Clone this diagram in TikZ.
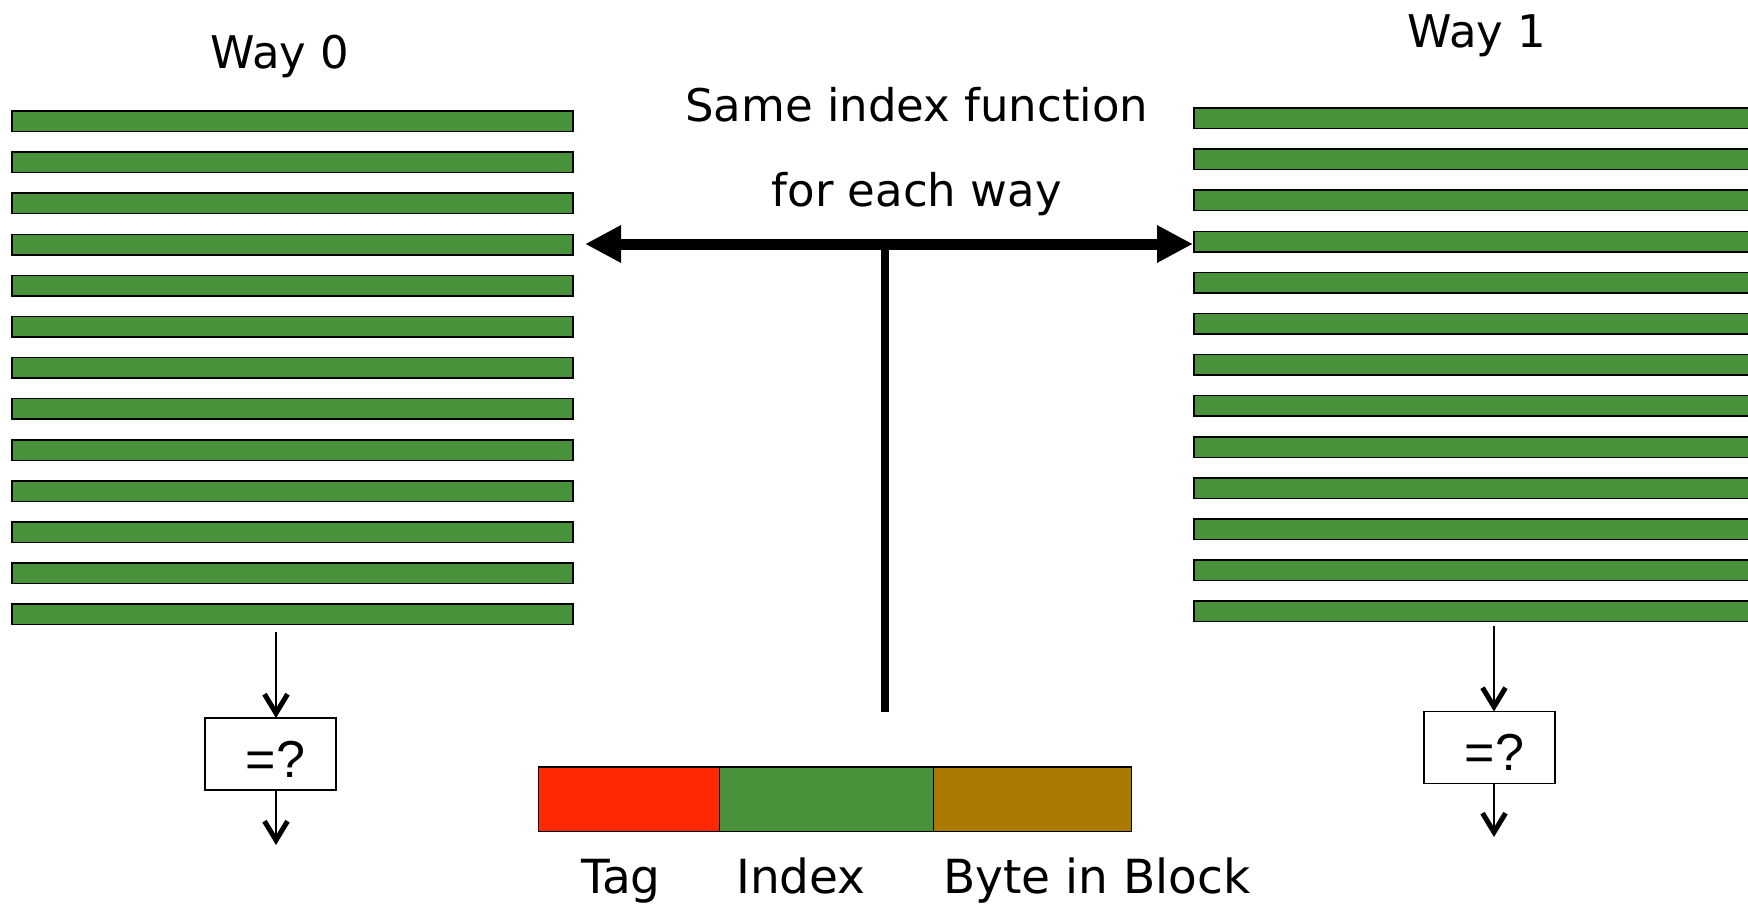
\documentclass[tikz,border=0pt]{standalone}
\usepackage{fontspec}
\usetikzlibrary{arrows.meta}
\newfontfamily\labelfont{DejaVu Sans}
\newfontfamily\boxfont{Liberation Sans}
\definecolor{linegreen}{RGB}{74,145,60}
\definecolor{tagred}{RGB}{255,40,0}
\definecolor{offbrown}{RGB}{170,122,0}
\tikzset{
  lbl/.style={font={\labelfont\fontsize{45}{54}\selectfont}, inner sep=0pt, anchor=base},
  fieldlbl/.style={font={\labelfont\fontsize{47}{56}\selectfont}, inner sep=0pt, anchor=base},
  cacheline/.style={draw=black, line width=1.5pt, fill=linegreen, rectangle,
    inner sep=0pt, outer sep=0pt, minimum height=20.5pt},
  field/.style={draw=black, line width=1.5pt, rectangle, inner sep=0pt, outer sep=0pt,
    minimum height=64.5pt},
  cmpbox/.style={draw=black, line width=1.4pt, fill=white, rectangle, inner sep=0pt,
    outer sep=0pt, minimum width=131pt, minimum height=72pt},
  cmptext/.style={font={\boxfont\fontsize{52}{60}\selectfont}, inner sep=0pt, anchor=base},
  cmparrow/.style={line width=1.6pt, -{Straight Barb[length=19pt, width=23pt, line width=5pt 0 1]}},
  indexbus/.style={line width=11pt, {Triangle[length=36pt, width=35pt]}-{Triangle[length=36pt, width=35pt]}},
  stem/.style={line width=8pt}
}
\begin{document}
\begin{tikzpicture}[x=1pt, y=-1pt]
\useasboundingbox (0,0) rectangle (1748,907);
\clip (0,0) rectangle (1748,907);
\fill[white] (0,0) rectangle (1748,907);

% way titles and caption
\node[lbl] (way0) at (280,68) {Way 0};
\node[lbl] (way1) at (1477,48) {Way 1};
\node[lbl] (same1) at (916.7,121.7) {Same index function};
\node[lbl] (same2) at (916.7,206.7) {for each way};

% the two ways: 13 cache lines each
\foreach \k in {0,...,12} {
  \node[cacheline, minimum width=561pt] (L\k) at (292.5,121.25+41.1*\k) {};
  \node[cacheline, minimum width=566pt] (R\k) at (1477,118.25+41.1*\k) {};
}

% index function fanning out to both ways
\coordinate (hub) at (885,244);
\coordinate (tipL) at (585,244);
\coordinate (tipR) at (1193,244);
\coordinate (stemend) at (885,712);
\draw[stem] (hub) -- (stemend);
\draw[indexbus] (tipL) -- (tipR);

% address fields
\node[field, fill=tagred, minimum width=181pt] (tagf) at (629,799.25) {};
\node[field, fill=linegreen, minimum width=214pt] (idxf) at (826.5,799.25) {};
\node[field, fill=offbrown, minimum width=198pt] (offf) at (1032.5,799.25) {};
\node[fieldlbl] (tagl) at (621,893) {Tag};
\node[fieldlbl] (idxl) at (801,893) {Index};
\node[fieldlbl] (offl) at (1097,893) {Byte in Block};

% tag comparators
\node[cmpbox] (c0) at (270.5,754) {};
\node[cmptext] (c0t) at (275.5,777) {=?};
\node[cmpbox] (c1) at (1489.5,747.5) {};
\node[cmptext] (c1t) at (1494.5,770) {=?};

\coordinate (w0out) at (276,632);
\coordinate (w0res) at (276,845);
\coordinate (w1out) at (1494,626);
\coordinate (w1res) at (1494,837);
\draw[cmparrow] (w0out) -- (w0out |- c0.north);
\draw[cmparrow] (w0out |- c0.south) -- (w0res);
\draw[cmparrow] (w1out) -- (w1out |- c1.north);
\draw[cmparrow] (w1out |- c1.south) -- (w1res);
\end{tikzpicture}
\end{document}
